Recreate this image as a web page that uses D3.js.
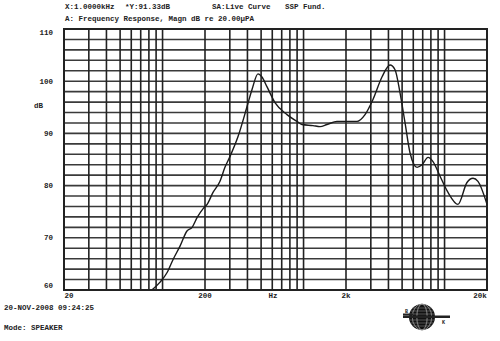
<!DOCTYPE html>
<html>
<head>
<meta charset="utf-8">
<script src="https://cdn.jsdelivr.net/npm/d3@7"></script>
<style>
  body { margin: 0; background: #fff; }
  svg { display: block; }
  text { font-family: "Liberation Mono", "DejaVu Sans Mono", monospace; fill: #222; font-weight: bold; }
</style>
</head>
<body>
<svg id="chart"></svg>
<script>
// frequency response of the speaker
const freqs = [84, 96, 108, 119, 133, 149, 162, 176, 194, 207, 228, 255, 277, 301, 343, 397, 431, 475, 507, 551, 627, 763, 898, 975, 1167, 1309, 1466, 1726, 2394, 2729, 3107, 3598, 4104, 4454, 4830, 5240, 5688, 6380, 6920, 7634, 8280, 9290, 10580, 12450, 14420, 15920, 17260, 20000];
const levels = [60.0, 61.5, 63.4, 65.9, 68.4, 71.3, 72.0, 73.9, 75.6, 76.4, 78.7, 80.8, 83.5, 85.6, 89.4, 95.1, 98.4, 101.4, 100.8, 98.9, 95.9, 93.6, 92.3, 91.7, 91.5, 91.3, 91.7, 92.3, 92.3, 93.6, 96.5, 100.8, 103.1, 102.2, 97.8, 92.1, 86.3, 83.5, 84.0, 85.4, 84.6, 81.8, 78.7, 76.4, 80.6, 81.4, 80.8, 76.4];

const yTicks = [60, 70, 80, 90, 100, 110];
const xTickVals = [20, 200, 2000, 20000];
const xTickLabels = ['20', '200', '2k', '20k'];
const gridFreqs = [];
[10, 100, 1000, 10000].forEach(dec => {
    for (let k = 1; k <= 9; k++) {
        const f = dec * k;
        if (f >= 20 && f <= 20000) gridFreqs.push(f);
    }
});
const gridLevels = d3.range(60, 111, 2);

const headerLines = [
    { x: 65, y: 9, t: 'X:1.0000kHz' },
    { x: 125, y: 9, t: '*Y:91.33dB' },
    { x: 212, y: 9, t: 'SA:Live Curve' },
    { x: 285, y: 9, t: 'SSP Fund.' },
    { x: 65, y: 21, t: 'A: Frequency Response, Magn dB re 20.00\u00b5PA' }
];

const width = 500;
const height = 341;
const margin = { left: 64, right: 13, top: 29, bottom: 51 };

const svg = d3.select('svg#chart')
    .attr('width', width)
    .attr('height', height);

const x = d3.scaleLog()
    .domain([20, 20000])
    .range([margin.left, width - margin.right]);

const y = d3.scaleLinear()
    .domain([60, 110])
    .range([height - margin.bottom, margin.top]);

const grid = svg.append('g');

grid.selectAll('line.h')
    .data(gridLevels)
    .join('line')
    .attr('class', 'h')
    .attr('x1', x(20)).attr('x2', x(20000))
    .attr('y1', d => y(d)).attr('y2', d => y(d))
    .attr('stroke', '#3a3a3a').attr('stroke-width', 1.6);

grid.selectAll('line.v')
    .data(gridFreqs)
    .join('line')
    .attr('class', 'v')
    .attr('x1', d => x(d)).attr('x2', d => x(d))
    .attr('y1', y(60)).attr('y2', y(110))
    .attr('stroke', '#222').attr('stroke-width', 1.6);

svg.append('rect')
    .attr('x', x(20)).attr('y', y(110))
    .attr('width', x(20000) - x(20)).attr('height', y(60) - y(110))
    .attr('fill', 'none').attr('stroke', '#222').attr('stroke-width', 2);

// curve, clipped to the plot frame
svg.append('clipPath').attr('id', 'clip')
    .append('rect')
    .attr('x', x(20)).attr('y', y(110))
    .attr('width', x(20000) - x(20)).attr('height', y(60) - y(110));

const line = d3.line()
    .x((d, i) => x(freqs[i]))
    .y(d => y(d))
    .curve(d3.curveMonotoneX);

svg.append('path')
    .datum(levels)
    .attr('clip-path', 'url(#clip)')
    .attr('d', line)
    .attr('fill', 'none')
    .attr('stroke', '#1a1a1a')
    .attr('stroke-width', 1.4);

// y labels
svg.selectAll('text.yl')
    .data(yTicks)
    .join('text')
    .attr('class', 'yl')
    .attr('x', 53)
    .attr('y', d => d === 110 ? 35 : d === 60 ? 288 : y(d) + 2.5)
    .attr('text-anchor', 'end')
    .attr('font-size', 7.5)
    .text(d => d);

svg.append('text').attr('x', 34).attr('y', 108).attr('font-size', 7.5).text('dB');

// x labels
svg.selectAll('text.xl')
    .data(xTickVals)
    .join('text')
    .attr('class', 'xl')
    .attr('x', (d, i) => x(d) + (i === 0 ? 5 : i === xTickVals.length - 1 ? -7 : 0))
    .attr('y', 298)
    .attr('text-anchor', 'middle')
    .attr('font-size', 7.5)
    .text((d, i) => xTickLabels[i]);

svg.append('text').attr('x', 273).attr('y', 298).attr('text-anchor', 'middle')
    .attr('font-size', 7.5).text('Hz');

svg.selectAll('text.hd')
    .data(headerLines)
    .join('text')
    .attr('class', 'hd')
    .attr('x', d => d.x).attr('y', d => d.y)
    .attr('font-size', 7.5)
    .text(d => d.t);

svg.append('text').attr('x', 4).attr('y', 310).attr('font-size', 7.5).text('20-NOV-2008 09:24:25');
svg.append('text').attr('x', 4).attr('y', 330).attr('font-size', 7.5).text('Mode: SPEAKER');

// B&K globe logo
const logo = svg.append('g').attr('transform', 'translate(422,317)');
logo.append('circle').attr('r', 13).attr('fill', '#111');
d3.range(-9, 10, 3).forEach(v => {
    const h = Math.sqrt(169 - v * v);
    logo.append('line').attr('x1', -h).attr('x2', h).attr('y1', v).attr('y2', v)
        .attr('stroke', '#999').attr('stroke-width', 0.5);
});
[-0.75, -0.4, 0.4, 0.75].forEach(s => {
    logo.append('ellipse').attr('rx', Math.abs(s) * 13).attr('ry', 13)
        .attr('fill', 'none').attr('stroke', '#999').attr('stroke-width', 0.5);
});
logo.append('rect').attr('x', -19).attr('y', -1.5).attr('width', 47).attr('height', 2.5).attr('fill', '#222');
logo.append('rect').attr('x', -19).attr('y', -3.5).attr('width', 10).attr('height', 2).attr('fill', '#222');
logo.append('text').attr('x', -17).attr('y', -4).attr('font-size', 5).text('B');
logo.append('text').attr('x', 20).attr('y', 7).attr('font-size', 5).text('K');
</script>
</body>
</html>
